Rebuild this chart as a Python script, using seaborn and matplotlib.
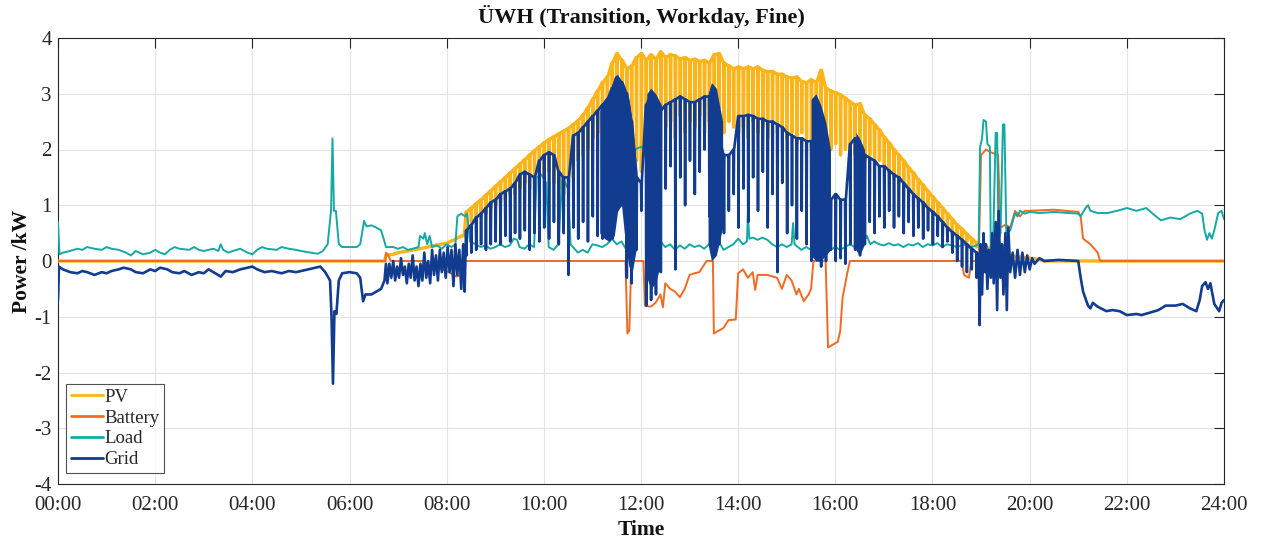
import numpy as np
import pandas as pd
import matplotlib
matplotlib.use("Agg")
import matplotlib.pyplot as plt
import seaborn as sns
from matplotlib.lines import Line2D

# ---------------- data (time in hours, power in kW) ----------------
# PV: morning ramp, daytime samples (every 0.1 h from 08:24 to 18:54), evening tail
pv_morning_t = [0.0, 6.72, 6.75, 6.9, 7.0, 7.2, 7.5, 7.7, 8.0, 8.2, 8.3, 8.36]
pv_morning_v = [0.0, 0.0, 0.10, 0.12, 0.15, 0.18, 0.23, 0.27, 0.32, 0.40, 0.45, 0.45]
pv_day_base = [0.88, 0.95, 1.03, 1.10, 1.18, 1.26, 1.34, 1.42, 1.50, 1.58,
               1.66, 1.74, 1.82, 1.90, 1.98, 2.05, 2.12, 2.18, 2.23, 2.28,
               2.33, 2.38, 2.45, 2.52, 2.62, 2.75, 2.90, 3.05, 3.20, 3.30,
               3.55, 3.72, 3.60, 3.45, 3.50, 3.65, 3.72, 3.60, 3.70, 3.62,
               3.75, 3.65, 3.70, 3.68, 3.62, 3.65, 3.60, 3.62, 3.58, 3.60,
               3.55, 3.70, 3.72, 3.55, 3.50, 3.45, 3.48, 3.45, 3.48, 3.45,
               3.48, 3.42, 3.40, 3.40, 3.35, 3.35, 3.30, 3.28, 3.30, 3.22,
               3.20, 3.25, 3.20, 3.42, 3.10, 3.05, 3.02, 2.98, 2.92, 2.85,
               2.80, 2.82, 2.62, 2.55, 2.45, 2.35, 2.22, 2.12, 2.00, 1.90,
               1.80, 1.68, 1.58, 1.46, 1.36, 1.25, 1.15, 1.05, 0.95, 0.85,
               0.75, 0.65, 0.57, 0.48, 0.40, 0.33]
pv_day_dip = [0.60, 0.70, 0.75, 0.80, 0.85, 0.95, 1.00, 1.05, 1.10, 1.20,
              1.20, 1.30, 1.40, 1.30, 1.50, 1.60, 1.50, 1.60, 1.40, 1.30,
              1.20, 1.40, 1.50, 1.80, 1.90, 2.00, 2.20, 2.30, 2.50, 2.60,
              2.80, 3.00, 2.90, 2.50, 2.20, 1.80, 1.60, 2.40, 2.50, 2.60,
              2.70, 2.40, 2.50, 2.20, 2.60, 2.30, 2.50, 2.40, 2.60, 2.30,
              2.50, 2.40, 2.60, 2.30, 2.50, 2.40, 2.30, 2.40, 2.20, 2.50,
              2.30, 2.40, 2.20, 2.50, 2.30, 2.40, 2.20, 2.30, 2.10, 2.30,
              2.20, 2.00, 2.10, 2.30, 2.20, 2.00, 2.10, 1.90, 2.00, 1.80,
              1.90, 1.70, 1.80, 1.90, 1.80, 1.80, 1.70, 1.60, 1.50, 1.40,
              1.40, 1.30, 1.20, 1.10, 1.00, 0.95, 0.85, 0.80, 0.70, 0.60,
              0.55, 0.45, 0.40, 0.35, 0.30, 0.25]
pv_evening_t = [18.95, 19.0, 19.1, 19.2, 19.3, 19.4, 19.5, 19.6, 19.8, 20.0, 20.2, 20.3, 24.0]
pv_evening_v = [0.30, 0.28, 0.25, 0.22, 0.18, 0.15, 0.12, 0.10, 0.07, 0.05, 0.03, 0.0, 0.0]

# Battery
bat_t = [0.0, 6.74, 6.75, 6.8, 6.85, 7.55, 7.6, 7.8, 8.0, 8.2, 8.3, 8.38, 11.68, 11.72,
         11.76, 11.8, 12.05, 12.08, 12.2, 12.3, 12.4, 12.45, 12.5, 12.6, 12.7, 12.8,
         12.9, 13.0, 13.1, 13.2, 13.35, 13.48, 13.5, 13.6, 13.7, 13.8, 13.95, 14.0,
         14.1, 14.2, 14.3, 14.35, 14.4, 14.6, 14.8, 14.9, 15.0, 15.1, 15.2, 15.25,
         15.35, 15.45, 15.5, 15.55, 15.8, 15.85, 15.95, 16.05, 16.1, 16.15, 16.25,
         16.3, 18.6, 18.65, 18.75, 18.8, 18.95, 19.0, 19.1, 19.2, 19.35, 19.4, 19.5,
         19.6, 19.7, 19.8, 19.9, 20.0, 20.5, 21.0, 21.05, 21.1, 21.25, 21.4, 21.45, 24.0]
bat_v = [0.0, 0.0, 0.15, 0.10, 0.0, 0.0, -0.08, -0.12, -0.18, -0.28, -0.25, 0.0, 0.0, -1.3,
         -1.25, 0.0, 0.0, -0.8, -0.82, -0.75, -0.6, -0.83, -0.4, -0.5, -0.55, -0.65,
         -0.5, -0.25, -0.22, -0.2, 0.0, 0.0, -1.3, -1.25, -1.2, -1.06, -1.05, -0.22,
         -0.15, -0.3, -0.2, -0.52, -0.25, -0.25, -0.3, -0.5, -0.25, -0.35, -0.6, -0.5,
         -0.72, -0.6, -0.5, 0.0, 0.0, -1.55, -1.5, -1.45, -1.26, -0.65, -0.2,
         0.0, 0.0, -0.25, -0.3, 0.0, 0.0, 1.9, 2.0, 1.95, 1.9, 0.6, 0.65,
         0.6, 0.9, 0.8, 0.9, 0.9, 0.92, 0.88, 0.8, 0.4, 0.3, 0.15, 0.0, 0.0]

# Load
load_t = [0.0, 0.03, 0.1, 0.25, 0.4, 0.5, 0.6, 0.75, 0.9, 1.0, 1.1, 1.25, 1.4, 1.5, 1.6,
          1.75, 1.9, 2.0, 2.1, 2.2, 2.3, 2.4, 2.5, 2.7, 2.8, 2.9, 3.0, 3.1, 3.2, 3.3,
          3.35, 3.4, 3.5, 3.6, 3.75, 3.9, 4.0, 4.1, 4.2, 4.3, 4.5, 4.6, 4.75, 4.9, 5.0,
          5.2, 5.35, 5.45, 5.55, 5.62, 5.65, 5.68, 5.72, 5.78, 5.85, 6.0, 6.15, 6.22,
          6.3, 6.35, 6.45, 6.55, 6.65, 6.72, 6.75, 6.9, 7.0, 7.1, 7.2, 7.3, 7.42, 7.45,
          7.52, 7.55, 7.6, 7.65, 7.7, 7.8, 7.9, 8.0, 8.1, 8.18, 8.22, 8.3, 8.38, 8.42,
          8.48, 8.6, 8.7, 8.8, 8.9, 9.0, 9.1, 9.2, 9.3, 9.38, 9.45, 9.5, 9.6, 9.7, 9.8,
          9.85, 9.95, 10.05, 10.1, 10.2, 10.3, 10.38, 10.5, 10.55, 10.7, 10.8, 10.9,
          11.0, 11.1, 11.2, 11.3, 11.4, 11.5, 11.6, 11.7, 11.8, 11.85, 11.88, 12.0,
          12.1, 12.13, 12.16, 12.3, 12.4, 12.5, 12.6, 12.7, 12.8, 12.9, 13.0, 13.1,
          13.2, 13.3, 13.4, 13.5, 13.6, 13.7, 13.8, 13.9, 14.0, 14.1, 14.18, 14.2,
          14.23, 14.3, 14.4, 14.5, 14.6, 14.7, 14.8, 14.9, 15.0, 15.1, 15.13, 15.16,
          15.3, 15.4, 15.5, 15.6, 15.7, 15.8, 15.9, 16.0, 16.1, 16.2, 16.3, 16.4,
          16.55, 16.65, 16.72, 16.8, 16.9, 17.0, 17.1, 17.2, 17.3, 17.4, 17.5, 17.6,
          17.7, 17.8, 17.9, 18.0, 18.1, 18.2, 18.3, 18.4, 18.5, 18.6, 18.7, 18.8,
          18.9, 18.95, 18.98, 19.02, 19.05, 19.1, 19.13, 19.18, 19.2, 19.25, 19.3,
          19.33, 19.36, 19.4, 19.45, 19.48, 19.52, 19.6, 19.7, 19.75, 19.8, 19.9, 20.0,
          20.2, 20.5, 20.8, 21.0, 21.05, 21.15, 21.2, 21.25, 21.4, 21.6, 21.8, 22.0,
          22.2, 22.4, 22.6, 22.7, 22.9, 23.1, 23.3, 23.45, 23.55, 23.6, 23.65, 23.7,
          23.75, 23.8, 23.88, 23.95, 24.0]
load_v = [0.70, 0.12, 0.15, 0.18, 0.22, 0.20, 0.25, 0.22, 0.20, 0.25, 0.22, 0.20, 0.15, 0.10, 0.18,
          0.12, 0.15, 0.20, 0.15, 0.12, 0.20, 0.25, 0.22, 0.20, 0.25, 0.20, 0.18, 0.20, 0.22, 0.18,
          0.30, 0.20, 0.15, 0.18, 0.22, 0.15, 0.12, 0.20, 0.25, 0.22, 0.20, 0.25, 0.22, 0.20, 0.18,
          0.15, 0.13, 0.18, 0.30, 0.90, 2.20, 0.90, 0.90, 0.30, 0.25, 0.25, 0.25, 0.30,
          0.72, 0.62, 0.64, 0.60, 0.55, 0.35, 0.25, 0.25, 0.22, 0.25, 0.20, 0.22, 0.25, 0.45,
          0.40, 0.50, 0.30, 0.45, 0.25, 0.28, 0.22, 0.30, 0.25, 0.30, 0.80, 0.85, 0.80, 0.85,
          0.35, 0.30, 0.25, 0.28, 0.22, 0.25, 0.30, 0.25, 0.28, 0.40, 0.38, 0.25, 0.22, 0.30, 0.25,
          1.50, 1.55, 1.40, 0.25, 0.20, 0.30, 1.50, 1.30, 0.30, 0.15, 0.20, 0.15,
          0.30, 0.28, 0.25, 0.30, 0.40, 0.30, 0.35, 0.20, 0.25, 1.40, 2.00, 2.05,
          2.00, 1.30, 0.30, 0.25, 0.35, 0.25, 0.30, 0.20, 0.28, 0.22, 0.30, 0.25,
          0.28, 0.22, 0.30, 0.25, 0.35, 0.20, 0.25, 0.30, 0.40, 0.30, 0.35, 0.83,
          0.40, 0.42, 0.38, 0.42, 0.38, 0.30, 0.25, 0.30, 0.25, 0.30, 0.68, 0.30,
          0.20, 0.25, 0.20, 0.25, 0.18, 0.22, 0.20, 0.25, 0.20, 0.25, 0.30, 0.25,
          0.30, 0.45, 0.30, 0.35, 0.30, 0.28, 0.32, 0.28, 0.30, 0.25, 0.30, 0.28,
          0.32, 0.25, 0.30, 0.28, 0.32, 0.25, 0.30, 0.28, 0.25, 0.28, 0.30, 0.25,
          0.28, 0.30, 2.05, 2.20, 2.53, 2.50, 2.10, 2.05, 0.20, 0.40, 2.30,
          2.30, 0.40, 0.50, 2.45, 2.45, 0.50, 0.55, 0.86, 0.80, 0.90, 0.85, 0.88,
          0.86, 0.88, 0.86, 0.85, 0.80, 0.95, 1.00, 0.90, 0.86, 0.86, 0.90, 0.95,
          0.90, 0.95, 0.80, 0.73, 0.78, 0.75, 0.85, 0.90, 0.85, 0.55, 0.38, 0.50,
          0.40, 0.55, 0.86, 0.90, 0.75]

# Grid: night / morning, daytime (base level + spike tips), evening
grid_morning_t = [0.0, 0.02, 0.1, 0.25, 0.4, 0.5, 0.6, 0.75, 0.9, 1.0, 1.1, 1.25, 1.35, 1.5,
                  1.6, 1.75, 1.9, 2.0, 2.1, 2.25, 2.35, 2.5, 2.6, 2.75, 2.9, 3.0, 3.1, 3.2,
                  3.35, 3.45, 3.6, 3.75, 3.9, 4.0, 4.1, 4.25, 4.4, 4.5, 4.6, 4.75, 4.9, 5.0,
                  5.15, 5.3, 5.4, 5.5, 5.6, 5.63, 5.66, 5.69, 5.73, 5.78, 5.85, 6.0, 6.15,
                  6.22, 6.28, 6.33, 6.45, 6.55, 6.65, 6.72, 6.75, 6.78, 6.82, 6.86, 6.9,
                  6.94, 6.98, 7.02, 7.06, 7.1, 7.14, 7.18, 7.22, 7.26, 7.3, 7.34, 7.38,
                  7.42, 7.46, 7.5, 7.54, 7.58, 7.62, 7.66, 7.7, 7.74, 7.78, 7.82, 7.86,
                  7.9, 7.94, 7.98, 8.02, 8.06, 8.1, 8.14, 8.18, 8.22, 8.26, 8.3, 8.34, 8.37]
grid_morning_v = [-0.70, -0.10, -0.15, -0.20, -0.22, -0.18, -0.20, -0.25, -0.20, -0.22, -0.18,
                  -0.15, -0.12, -0.15, -0.20, -0.22, -0.15, -0.18, -0.12, -0.15, -0.20, -0.22,
                  -0.18, -0.25, -0.20, -0.22, -0.15, -0.20, -0.28, -0.18, -0.20, -0.15, -0.12,
                  -0.10, -0.15, -0.20, -0.18, -0.20, -0.22, -0.18, -0.20, -0.18, -0.15, -0.12,
                  -0.10, -0.20, -0.35, -1.00, -2.20, -0.90, -0.95, -0.35, -0.22, -0.20, -0.22,
                  -0.30, -0.72, -0.60, -0.60, -0.55, -0.50, -0.35, -0.05, -0.40, -0.05, -0.30,
                  0.00, -0.35, -0.10, -0.30, 0.05, -0.25, -0.10, -0.40, -0.05, -0.30, 0.10,
                  -0.35, -0.10, -0.45, -0.05, -0.35, 0.15, -0.30, 0.00, -0.40, 0.20, -0.25,
                  0.10, -0.35, 0.20, -0.20, 0.15, -0.30, 0.25, -0.20, 0.20, -0.45, 0.30,
                  -0.25, 0.20, -0.50, 0.30, -0.55]
grid_day_base = [0.55, 0.65, 0.78, 0.85, 0.95, 1.05, 1.10, 1.20, 1.25, 1.30,
                 1.40, 1.55, 1.60, 1.55, 1.50, 1.80, 1.90, 1.95, 1.90, 1.60,
                 1.50, 1.50, 2.25, 2.30, 2.40, 2.50, 2.60, 2.70, 2.80, 2.90,
                 3.10, 3.30, 3.20, 3.00, 2.50, 1.50, 1.40, 2.80, 3.00, 2.90,
                 2.70, 2.80, 2.85, 2.90, 2.95, 2.90, 2.85, 2.85, 2.90, 2.95,
                 2.95, 2.80, 2.20, 1.90, 1.90, 2.00, 2.60, 2.60, 2.62, 2.60,
                 2.55, 2.55, 2.50, 2.50, 2.45, 2.40, 2.30, 2.25, 2.20, 2.20,
                 2.15, 2.15, 1.60, 1.15, 1.10, 1.10, 1.20, 1.10, 1.10, 2.10,
                 2.20, 2.10, 1.90, 1.85, 1.80, 1.70, 1.70, 1.62, 1.55, 1.50,
                 1.40, 1.30, 1.20, 1.12, 1.05, 0.95, 0.88, 0.80, 0.70, 0.60,
                 0.52, 0.45, 0.38, 0.30, 0.22, 0.15]
grid_day_tip = [0.10, 0.15, 0.20, 0.30, 0.20, 0.30, 0.35, 0.30, 0.45, 0.35,
                0.50, 0.40, 0.55, 0.20, 0.50, 0.35, 0.60, 0.40, 0.70, 0.30,
                0.50, -0.25, 0.60, 0.40, 0.70, 0.35, 0.80, 0.45, 0.40, 0.50,
                0.40, 0.90, 1.00, -0.30, -0.40, 0.20, 0.90, -0.80, -0.70, -0.60,
                -0.20, 1.30, 1.70, -0.15, 1.50, 1.00, 1.80, 1.20, 1.60, 2.00,
                0.80, 0.10, 0.30, 0.50, 0.90, 1.20, 0.60, 1.30, 0.70, 1.50,
                0.90, 1.60, 0.60, 1.20, -0.20, 1.40, 0.50, 1.00, 0.40, 0.90,
                0.30, 0.00, 0.10, -0.10, 0.00, 0.20, 0.00, 0.05, -0.05, 0.30,
                0.20, 0.10, 0.30, 0.70, 0.50, 0.80, 0.60, 0.90, 0.60, 0.80,
                0.50, 0.70, 0.45, 0.60, 0.40, 0.55, 0.30, 0.45, 0.25, 0.35,
                0.15, 0.00, -0.10, -0.20, -0.15, -0.30]
grid_evening_t = [18.95, 18.97, 18.99, 19.02, 19.05, 19.08, 19.1, 19.13, 19.16, 19.2, 19.23,
                  19.26, 19.3, 19.33, 19.36, 19.4, 19.43, 19.46, 19.5, 19.53, 19.56, 19.6,
                  19.65, 19.7, 19.75, 19.8, 19.85, 19.9, 19.95, 20.0, 20.05, 20.1, 20.2, 20.3,
                  20.6, 21.0, 21.05, 21.1, 21.2, 21.25, 21.3, 21.4, 21.58, 21.7, 21.85, 22.0,
                  22.2, 22.3, 22.5, 22.65, 22.8, 23.0, 23.15, 23.3, 23.43, 23.5, 23.55, 23.62,
                  23.67, 23.72, 23.8, 23.9, 23.95, 24.0]
grid_evening_v = [0.10, -1.15, 0.30, -0.60, 0.50, -0.20, 0.30, -0.50, 0.20, -0.30, 0.50,
                  -0.40, 0.70, -0.88, 0.90, -0.30, 0.30, -0.60, 0.50, -0.88, 0.60, -0.20,
                  0.15, -0.30, 0.20, -0.25, 0.15, -0.20, 0.10, -0.15, 0.05, -0.05, 0.05, 0.00,
                  0.02, 0.00, -0.30, -0.55, -0.80, -0.85, -0.75, -0.82, -0.90, -0.88, -0.90,
                  -0.97, -0.95, -0.97, -0.92, -0.88, -0.80, -0.80, -0.77, -0.85, -0.90, -0.70,
                  -0.45, -0.38, -0.50, -0.40, -0.77, -0.90, -0.75, -0.70]

# Grid periods where the signal oscillates so fast that it renders as a solid band
dense_zone = [1] * 10 + [2] * 4 + [3] * 4 + [4] * 5 + [5] * 3
dense_t = [11.15, 11.25, 11.35, 11.45, 11.52, 11.6, 11.68, 11.75, 11.82, 11.92,
           12.12, 12.2, 12.3, 12.42,
           13.38, 13.45, 13.55, 13.68,
           15.5, 15.6, 15.7, 15.8, 15.9,
           16.42, 16.5, 16.6]
dense_hi = [2.7, 2.9, 3.0, 3.3, 3.35, 3.15, 3.0, 2.9, 2.5, 1.6,
            3.0, 3.1, 3.0, 2.8,
            3.0, 3.2, 3.1, 2.5,
            2.9, 3.0, 2.8, 2.5, 2.0,
            2.3, 2.2, 2.0]
dense_lo = [0.5, 0.4, 0.35, 0.45, 0.9, 1.0, 0.3, -0.1, -0.2, 0.3,
            -0.3, -0.5, -0.4, 0.0,
            0.3, 0.0, 0.1, 0.6,
            0.1, 0.0, 0.0, 0.1, 0.2,
            0.2, 0.1, 0.3]

series_names = ["PV", "Battery", "Load", "Grid"]
colors = {"PV": "#FBB41A", "Battery": "#F26A21", "Load": "#14A9A3", "Grid": "#123C8F"}
x_ticks = list(range(0, 25, 2))
x_tick_labels = [f"{h:02d}:00" for h in x_ticks]
y_ticks = list(range(-4, 5))

# ---------------- build series ----------------
day_start, day_step = 8.4, 0.1
day_t = [round(day_start + day_step * i, 2) for i in range(len(grid_day_base))]


def with_spikes(times, base, tip, w=0.008):
    xs, ys = [], []
    for t, b, p in zip(times, base, tip):
        xs += [t, t + w, t + 2 * w]
        ys += [b, p, b]
    return xs, ys


pv_sx, pv_sy = with_spikes(day_t, pv_day_base, pv_day_dip)
gr_sx, gr_sy = with_spikes(day_t, grid_day_base, grid_day_tip)

frames = []
def add(name, xs, ys):
    frames.append(pd.DataFrame({"time": xs, "power": ys, "series": name}))

add("PV", pv_morning_t + pv_sx + pv_evening_t, pv_morning_v + pv_sy + pv_evening_v)
add("Battery", bat_t, bat_v)
add("Load", load_t, load_v)
add("Grid", grid_morning_t + gr_sx + grid_evening_t, grid_morning_v + gr_sy + grid_evening_v)
df = pd.concat(frames, ignore_index=True)

dense = pd.DataFrame({"zone": dense_zone, "t": dense_t, "lo": dense_lo, "hi": dense_hi})

# ---------------- plot ----------------
sns.set_style("white")
plt.rcParams["font.family"] = ["Liberation Serif", "DejaVu Serif"]
plt.rcParams["axes.unicode_minus"] = False

fig = plt.figure(figsize=(12.65, 5.39), dpi=100)
ax = fig.add_axes([58 / 1265, 1 - 484 / 539, (1224 - 58) / 1265, (484 - 38) / 539])

lws = {"PV": 2.4, "Battery": 1.4, "Load": 1.4, "Grid": 1.9}
for z, name in enumerate(series_names):
    sub = df[df["series"] == name]
    sns.lineplot(data=sub, x="time", y="power", sort=False, estimator=None,
                 color=colors[name], lw=lws[name], ax=ax, zorder=3 + z, legend=False)
    if name == "Grid":
        for zone, g in dense.groupby("zone"):
            ax.fill_between(g["t"], g["lo"], g["hi"], color=colors["Grid"], lw=0, zorder=3 + z)

ax.set_xlim(0, 24)
ax.set_ylim(-4, 4)
ax.set_xticks(x_ticks)
ax.set_xticklabels(x_tick_labels)
ax.set_yticks(y_ticks)
ax.grid(True, color="#E3E3E3", lw=0.8)
ax.set_axisbelow(True)
ax.tick_params(direction="in", length=7.5, width=0.8, top=True, right=True,
               colors="#262626", labelsize=15, labelcolor="#262626")
ax.tick_params(axis="y", pad=4.5)
ax.tick_params(axis="x", pad=9)
for s in ax.spines.values():
    s.set_color("#262626")
    s.set_linewidth(0.8)
    s.set_visible(True)

ax.set_xlabel("Time", fontsize=15.5, fontweight="bold", labelpad=3, color="#111111")
ax.set_ylabel("Power /kW", fontsize=15.5, fontweight="bold", labelpad=1.5, color="#111111")
ax.set_title("ÜWH (Transition, Workday, Fine)", fontsize=16, fontweight="bold", pad=11, color="#111111")

handles = [Line2D([0], [0], color=colors[n], lw=2) for n in series_names]
leg = ax.legend(handles, series_names, loc="lower left", bbox_to_anchor=(8 / 1166, 11 / 446),
                borderaxespad=0, fontsize=13.5, frameon=True, fancybox=False,
                edgecolor="#262626", handlelength=1.7, handletextpad=0.1,
                labelspacing=0.2, borderpad=0.25)
leg.get_frame().set_linewidth(0.8)
leg.set_zorder(20)

fig.savefig("out.png", dpi=100)
